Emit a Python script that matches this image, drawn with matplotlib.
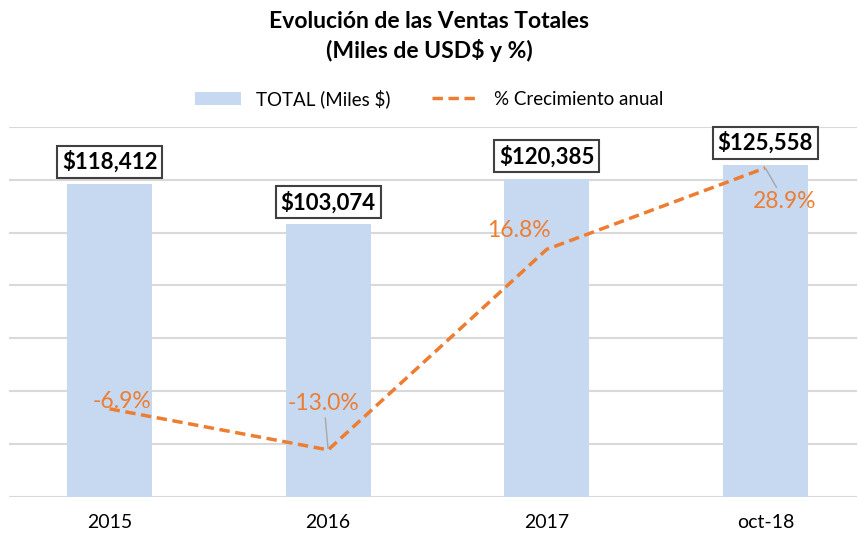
import matplotlib.pyplot as plt
import numpy as np

plt.rcParams['font.family'] = ['Lato', 'DejaVu Sans']

CATEGORIES = ["2015", "2016", "2017", "oct-18"]
TOTAL = [118412, 103074, 120385, 125558]
GROWTH = [-6.9, -13.0, 16.8, 28.9]
# label offsets for the % labels (points)
GROWTH_OFFSETS = [(9, -2), (-3, 26), (-20, 6), (14, -32)]

BAR_COLOR = "#C6D9F0"
LINE_COLOR = "#ED7D31"
GRID_COLOR = "#D9D9D9"

fig = plt.figure(figsize=(8.58, 5.38), dpi=100)
ax = fig.add_axes([0.0105, 0.0762, 0.9885, 0.688])
x = np.arange(len(CATEGORIES))

bars = ax.bar(x, TOTAL, width=0.39, color=BAR_COLOR, zorder=2, label="TOTAL (Miles $)")
ax.set_ylim(0, 140000)
ax.set_yticks(np.arange(0, 140001, 20000))
ax.set_xlim(-0.46, 3.42)
ax.grid(axis="y", color=GRID_COLOR, linewidth=1.5, zorder=0)
ax.set_axisbelow(True)
ax.set_xticks(x)
ax.set_xticklabels(CATEGORIES, fontsize=14)
ax.tick_params(axis="both", length=0, pad=12)
ax.set_yticklabels([])
for s in ax.spines.values():
    s.set_visible(False)

for xi, v in zip(x, TOTAL):
    ax.annotate("${:,}".format(v), (xi, v), xytext=(0, 8), textcoords="offset points",
                ha="center", va="bottom", fontsize=16, fontweight="bold",
                bbox=dict(boxstyle="square,pad=0.22", fc="white", ec="#404040", lw=1.5),
                zorder=5)

ax2 = ax.twinx()
ax2.set_ylim(-20, 35)
ax2.set_yticks([])
for s in ax2.spines.values():
    s.set_visible(False)
line, = ax2.plot(x, GROWTH, color=LINE_COLOR, linestyle=(0, (3, 1.6)), linewidth=2.5,
                 label="% Crecimiento anual", zorder=3)

for xi, v, off in zip(x, GROWTH, GROWTH_OFFSETS):
    ax2.annotate("{:.1f}%".format(v), (xi, v), xytext=off, textcoords="offset points",
                 ha="center", va="bottom", fontsize=16.5, color=LINE_COLOR,
                 arrowprops=dict(arrowstyle="-", color="#A6A6A6", lw=1, shrinkA=1, shrinkB=1)
                 if abs(off[1]) > 10 else None)

fig.text(0.5, 0.932, "Evolución de las Ventas Totales\n(Miles de USD$ y %)", ha="center",
         va="center", fontsize=16.5, fontweight="bold", linespacing=1.35)
fig.legend(handles=[bars, line], loc="center", bbox_to_anchor=(0.5, 0.817), ncol=2,
           frameon=False, fontsize=13.5, handlelength=2.5, columnspacing=2.2)

fig.savefig("out.png", dpi=100)
